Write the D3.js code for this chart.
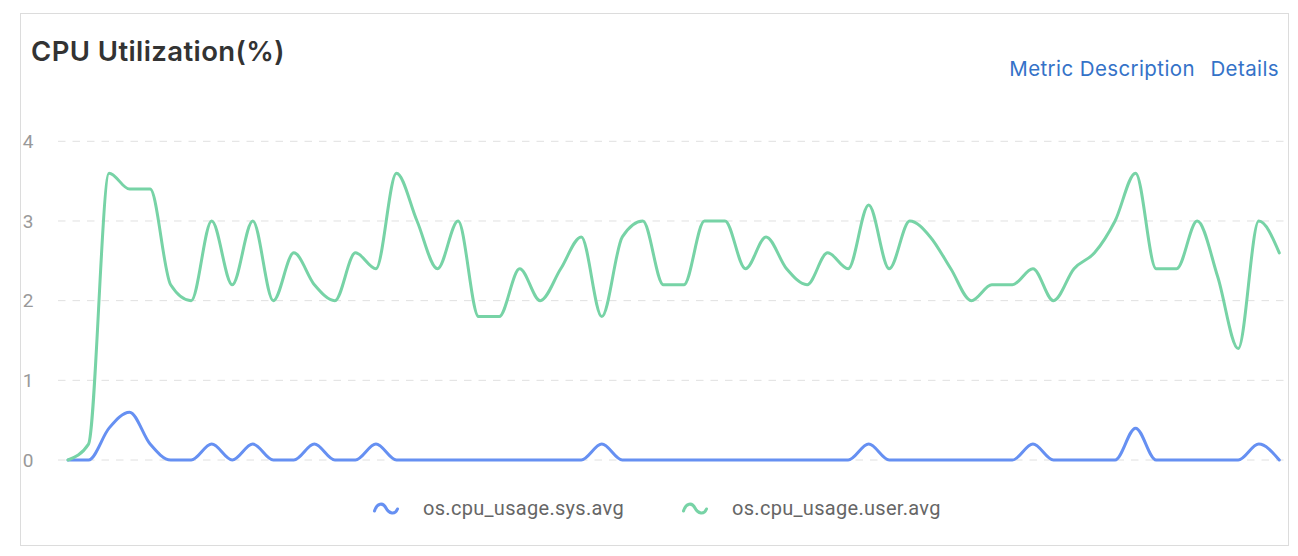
<!DOCTYPE html>
<html>
<head>
<meta charset="utf-8">
<script src="https://cdn.jsdelivr.net/npm/d3@7"></script>
<style>
  html, body { margin: 0; padding: 0; background: #fff; }
  svg { display: block; }
</style>
</head>
<body>
<svg id="chart" width="1298" height="556"></svg>
<script>
// one point per minute, 60 points
const sysValues = [
  0, 0, 0.4, 0.6, 0.2, 0, 0, 0.2, 0, 0.2,
  0, 0, 0.2, 0, 0, 0.2, 0, 0, 0, 0,
  0, 0, 0, 0, 0, 0, 0.2, 0, 0, 0,
  0, 0, 0, 0, 0, 0, 0, 0, 0, 0.2,
  0, 0, 0, 0, 0, 0, 0, 0.2, 0, 0,
  0, 0, 0.4, 0, 0, 0, 0, 0, 0.2, 0
];
const userValues = [
  0, 0.2, 3.6, 3.4, 3.4, 2.2, 2.0, 3.0, 2.2, 3.0,
  2.0, 2.6, 2.2, 2.0, 2.6, 2.4, 3.6, 3.0, 2.4, 3.0,
  1.8, 1.8, 2.4, 2.0, 2.4, 2.8, 1.8, 2.8, 3.0, 2.2,
  2.2, 3.0, 3.0, 2.4, 2.8, 2.4, 2.2, 2.6, 2.4, 3.2,
  2.4, 3.0, 2.8, 2.4, 2.0, 2.2, 2.2, 2.4, 2.0, 2.4,
  2.6, 3.0, 3.6, 2.4, 2.4, 3.0, 2.3, 1.4, 3.0, 2.6
];
const yTicks = [0, 1, 2, 3, 4];
const seriesNames = ['os.cpu_usage.sys.avg', 'os.cpu_usage.user.avg'];
const seriesColors = ['#6690f2', '#77d3a6'];

const svg = d3.select('#chart');

// card border
svg.append('rect')
  .attr('x', 20.5).attr('y', 13.5)
  .attr('width', 1268).attr('height', 532)
  .attr('fill', '#fff')
  .attr('stroke', '#dcdcdc');

svg.append('text')
  .attr('x', 31).attr('y', 61)
  .attr('font-family', 'Inter, "Open Sans", sans-serif')
  .attr('font-weight', 600)
  .attr('font-size', 27.5)
  .attr('letter-spacing', 0.4)
  .attr('fill', '#333')
  .text('CPU Utilization(%)');

const links = svg.append('g')
  .attr('font-family', 'Inter, "Open Sans", sans-serif')
  .attr('font-size', 20.5)
  .attr('letter-spacing', 0.4)
  .attr('fill', '#3472c8');
links.append('text').attr('x', 1279).attr('y', 75.5).attr('text-anchor', 'end').text('Details');
links.append('text').attr('x', 1195).attr('y', 75.5).attr('text-anchor', 'end').text('Metric Description');

const x = d3.scaleLinear()
  .domain([0, userValues.length - 1])
  .range([68, 1279.3]);

const y = d3.scaleLinear()
  .domain([0, 4])
  .range([460, 141.3]);

// grid
svg.append('g')
  .selectAll('line')
  .data(yTicks)
  .enter().append('line')
  .attr('x1', 58).attr('x2', 1288)
  .attr('y1', d => y(d)).attr('y2', d => y(d))
  .attr('stroke', '#e0e0e0')
  .attr('stroke-dasharray', '7.5,7');

// y axis labels
const yAxis = d3.axisLeft(y)
  .tickValues(yTicks)
  .tickFormat(d3.format('d'))
  .tickSize(0)
  .tickPadding(0);
const yAxisG = svg.append('g')
  .attr('transform', 'translate(33.5,0)')
  .call(yAxis);
yAxisG.select('.domain').remove();
yAxisG.selectAll('text')
  .attr('font-family', 'Roboto, sans-serif')
  .attr('font-size', 19)
  .attr('fill', '#999');

const line = d3.line()
  .x((d, i) => x(i))
  .y(d => y(d))
  .curve(d3.curveMonotoneX);

[sysValues, userValues].forEach((vals, k) => {
  svg.append('path')
    .datum(vals)
    .attr('fill', 'none')
    .attr('stroke', seriesColors[k])
    .attr('stroke-width', 3)
    .attr('stroke-linejoin', 'round')
    .attr('stroke-linecap', 'round')
    .attr('d', line);
});

// legend
const legendPos = [373, 682];
const legend = svg.append('g');
seriesNames.forEach((name, k) => {
  const g = legend.append('g').attr('transform', `translate(${legendPos[k]},508)`);
  g.append('path')
    .attr('d', 'M1.5,3 C4,-5 10,-6 13,0 S22,7 24.5,1')
    .attr('fill', 'none')
    .attr('stroke', seriesColors[k])
    .attr('stroke-width', 3)
    .attr('stroke-linecap', 'round');
  g.append('text')
    .attr('x', 50).attr('y', 6.5)
    .attr('font-family', 'Roboto, sans-serif')
    .attr('font-size', 20)
    .attr('letter-spacing', 0.3)
    .attr('fill', '#666')
    .text(name);
});
</script>
</body>
</html>
